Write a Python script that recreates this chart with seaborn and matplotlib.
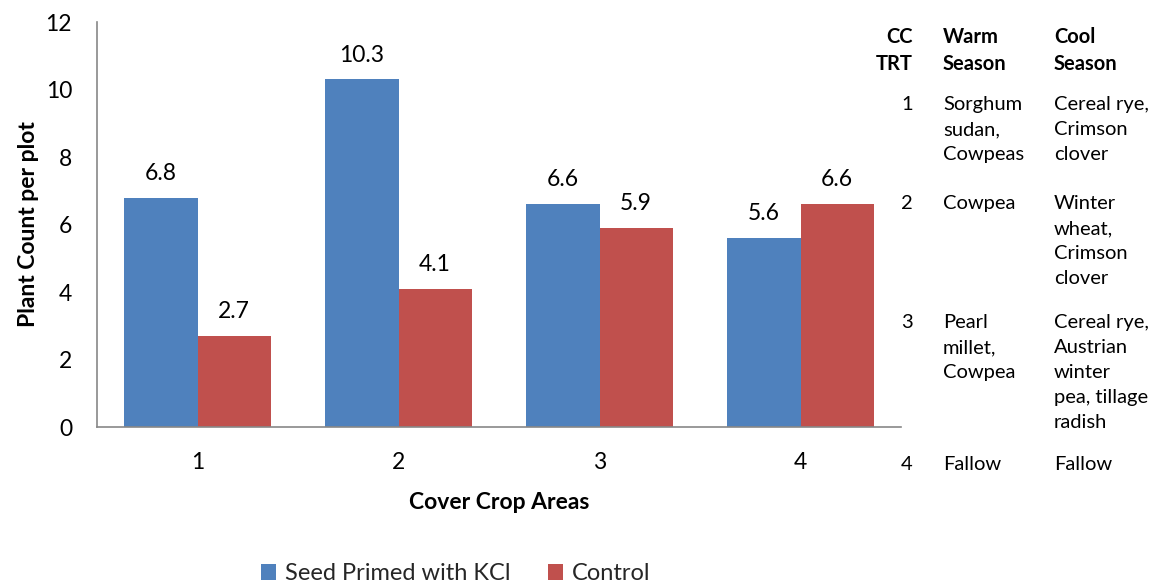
import matplotlib
matplotlib.use("Agg")
import matplotlib.pyplot as plt
import seaborn as sns
import pandas as pd

# Data
areas = ["1", "2", "3", "4"]
primed = [6.8, 10.3, 6.6, 5.6]
control = [2.7, 4.1, 5.9, 6.6]
series_names = ["Seed Primed with KCl", "Control"]
colors = ["#4F81BD", "#C0504D"]

# Cover crop treatment table
trt_ids = ["1", "2", "3", "4"]
warm_season = ["Sorghum\nsudan,\nCowpeas", "Cowpea", "Pearl\nmillet,\nCowpea", "Fallow"]
cool_season = ["Cereal rye,\nCrimson\nclover", "Winter\nwheat,\nCrimson\nclover",
               "Cereal rye,\nAustrian\nwinter\npea, tillage\nradish", "Fallow"]

df = pd.DataFrame({
    "area": areas * 2,
    "count": primed + control,
    "series": [series_names[0]] * len(areas) + [series_names[1]] * len(areas),
})

sns.set_theme(style="white")
plt.rcParams["font.family"] = ["Lato", "DejaVu Sans"]

fig = plt.figure(figsize=(11.62, 5.84), dpi=100)
ax = fig.add_axes([0.0835, 0.2688, 0.6919, 0.6935])

sns.barplot(data=df, x="area", y="count", hue="series", palette=colors,
            width=0.727, saturation=1, linewidth=0, ax=ax, legend=True, dodge=True)

for cont in ax.containers:
    ax.bar_label(cont, fmt="%.1f", padding=10, fontsize=16.5, color="black")

ax.set_ylim(0, 12)
ax.set_yticks(range(0, 13, 2))
ax.tick_params(axis="both", length=0, labelsize=16.5, colors="black")
ax.tick_params(axis="y", pad=18)
ax.tick_params(axis="x", pad=18)
ax.set_xlabel("Cover Crop Areas", fontsize=16.5, fontweight="bold", labelpad=14,
              color="black")
ax.set_ylabel("Plant Count per plot", fontsize=16.5, fontweight="bold", labelpad=5,
              color="black")

for side in ["top", "right"]:
    ax.spines[side].set_visible(False)
for side in ["left", "bottom"]:
    ax.spines[side].set_color("#888888")
    ax.spines[side].set_linewidth(1.2)

handles, labels = ax.get_legend_handles_labels()
ax.get_legend().remove()
fig.legend(handles, labels, loc="center", bbox_to_anchor=(0.392, 0.018), ncol=2,
           frameon=False, fontsize=17, handlelength=0.65, handleheight=0.65,
           handletextpad=0.35, columnspacing=1.6)

# Treatment table on the right
tcol = "black"
fs = 14.5
ls = 1.58
x_id, x_warm, x_cool = 913 / 1162, 943 / 1162, 1054 / 1162
top_hdr = 1 - 27 / 584
fig.text(x_id, top_hdr, "CC\nTRT", ha="right", va="top", fontsize=fs,
         fontweight="bold", color=tcol, linespacing=1.45)
fig.text(x_warm, top_hdr, "Warm\nSeason", ha="left", va="top", fontsize=fs,
         fontweight="bold", color=tcol, linespacing=1.45)
fig.text(x_cool, top_hdr, "Cool\nSeason", ha="left", va="top", fontsize=fs,
         fontweight="bold", color=tcol, linespacing=1.45)

row_tops = [96, 195, 314, 456]
for tid, w, c, y in zip(trt_ids, warm_season, cool_season, row_tops):
    yy = 1 - y / 584
    fig.text(x_id, yy, tid, ha="right", va="top", fontsize=fs, color=tcol, linespacing=ls)
    fig.text(x_warm, yy, w, ha="left", va="top", fontsize=fs, color=tcol, linespacing=ls)
    fig.text(x_cool, yy, c, ha="left", va="top", fontsize=fs, color=tcol, linespacing=ls)

fig.savefig("out.png", dpi=100, facecolor="white")
